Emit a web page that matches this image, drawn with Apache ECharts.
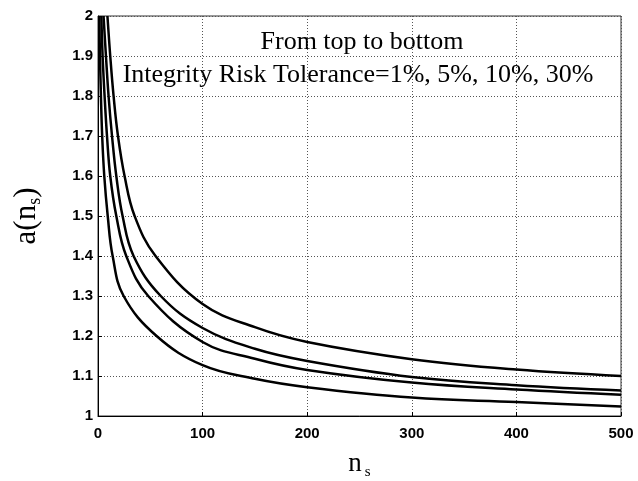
<!DOCTYPE html>
<html>
<head>
<meta charset="utf-8">
<script src="https://cdn.jsdelivr.net/npm/echarts@6/dist/echarts.min.js"></script>
<style>
  html, body { margin: 0; padding: 0; background: #fff; }
  #chart { width: 638px; height: 481px; }
</style>
</head>
<body>
<div id="chart"></div>
<script>
// a(n_s) versus n_s for four integrity risk tolerances, each as [n_s, a] pairs
const risk1pct = [[9, 2.0], [11.7, 1.9], [14.9, 1.8], [19.1, 1.7], [25.4, 1.6], [35, 1.5], [55, 1.4], [100, 1.28], [150, 1.222], [200, 1.185], [300, 1.142], [400, 1.116], [500, 1.1]];
const risk5pct = [[5.3, 2.0], [7.6, 1.9], [10.1, 1.8], [13.4, 1.7], [17.5, 1.6], [23.5, 1.5], [34, 1.4], [60, 1.3], [100, 1.22], [150, 1.168], [200, 1.1375], [300, 1.0975], [400, 1.077], [500, 1.064]];
const risk10pct = [[3.2, 2.0], [4.4, 1.9], [6.3, 1.8], [8.6, 1.7], [11.7, 1.6], [17.5, 1.5], [27, 1.4], [48, 1.3], [100, 1.185], [150, 1.143], [200, 1.115], [300, 1.0835], [400, 1.066], [500, 1.053]];
const risk30pct = [[1.2, 2.0], [1.9, 1.9], [2.8, 1.8], [4.0, 1.7], [6.0, 1.6], [9.3, 1.5], [14, 1.4], [24.5, 1.3], [56, 1.2], [100, 1.127], [150, 1.093], [200, 1.072], [300, 1.046], [400, 1.035], [500, 1.024]];

const seriesData = [risk1pct, risk5pct, risk10pct, risk30pct];
const xTicks = { min: 0, max: 500, step: 100 };
const yTicks = { min: 1, max: 2, step: 0.1 };

const serif = 'Liberation Serif, Times New Roman, serif';
const chart = echarts.init(document.getElementById('chart'), null, { renderer: 'canvas' });

const tickLabel = {
  color: '#000',
  fontFamily: 'Liberation Sans, Arial, sans-serif',
  fontWeight: 'bold',
  fontSize: 15
};
const gridLine = { show: true, lineStyle: { color: '#555', type: [1, 2], width: 1 } };

chart.setOption({
  animation: false,
  backgroundColor: '#fff',
  grid: {
    left: 98, right: 17, top: 16, bottom: 65,
    outerBoundsMode: 'none',
    containLabel: false,
    show: true, borderColor: '#333', borderWidth: 1, backgroundColor: 'transparent'
  },
  xAxis: {
    type: 'value',
    min: xTicks.min, max: xTicks.max, interval: xTicks.step,
    axisLine: { show: true, onZero: false, lineStyle: { color: '#000', width: 1 } },
    axisTick: { show: true, inside: true, length: 4, lineStyle: { color: '#000' } },
    axisLabel: Object.assign({ margin: 10 }, tickLabel),
    splitLine: gridLine,
    name: '{a|n}{s|s}',
    nameLocation: 'middle',
    nameGap: 33,
    nameTextStyle: {
      rich: {
        a: { fontFamily: serif, fontSize: 27, color: '#000', lineHeight: 30 },
        s: { fontFamily: serif, fontSize: 15, color: '#000', lineHeight: 30, padding: [16, 0, 0, 3] }
      }
    }
  },
  yAxis: {
    type: 'value',
    min: yTicks.min, max: yTicks.max, interval: yTicks.step,
    axisLine: { show: true, onZero: false, lineStyle: { color: '#000', width: 1 } },
    axisTick: { show: true, inside: true, length: 4, lineStyle: { color: '#000' } },
    axisLabel: Object.assign({ margin: 5 }, tickLabel),
    splitLine: gridLine,
    name: '{a|a(n}{s|s}{a|)}',
    nameLocation: 'middle',
    nameRotate: 90,
    nameGap: 54,
    nameTextStyle: {
      rich: {
        a: { fontFamily: serif, fontSize: 31, color: '#000', lineHeight: 34 },
        s: { fontFamily: serif, fontSize: 18, color: '#000', lineHeight: 34, padding: [16, 0, 0, 0] }
      }
    }
  },
  graphic: [
    {
      type: 'text', x: 362, y: 42,
      style: {
        text: 'From top to bottom',
        align: 'center', verticalAlign: 'middle',
        fontFamily: serif, fontSize: 26, fill: '#000'
      }
    },
    {
      type: 'text', x: 358, y: 75,
      style: {
        text: 'Integrity Risk Tolerance=1%, 5%, 10%, 30%',
        align: 'center', verticalAlign: 'middle',
        fontFamily: serif, fontSize: 26, fill: '#000'
      }
    }
  ],
  series: seriesData.map(function (d) {
    return {
      type: 'line',
      data: d,
      showSymbol: false,
      smooth: 0.4,
      clip: true,
      lineStyle: { color: '#000', width: 2.5 }
    };
  })
});
</script>
</body>
</html>
